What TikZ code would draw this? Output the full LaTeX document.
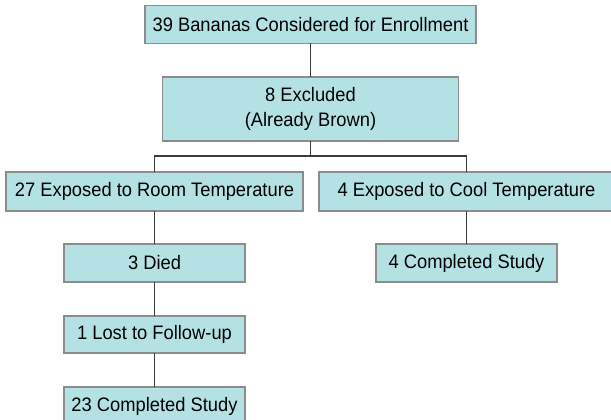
\documentclass[tikz,border=0pt]{standalone}
\usepackage{fontspec}
\setmainfont{Liberation Sans}[FakeStretch=0.94]
\definecolor{boxfill}{RGB}{180,226,228}
\definecolor{boxline}{RGB}{140,140,140}
\definecolor{conn}{RGB}{60,60,60}
\definecolor{txt}{RGB}{0,0,0}
\begin{document}
\begin{tikzpicture}[x=1pt,y=-1pt,
  box/.style={draw=boxline,fill=boxfill,line width=1.4pt,inner sep=0pt,outer sep=0pt,
    align=center,text=txt,font=\fontsize{19.5}{25}\selectfont},
  link/.style={draw=conn,line width=1.3pt}]
\useasboundingbox (0,0) rectangle (611,420);
\clip (0,0) rectangle (611,420);
\fill[white] (0,0) rectangle (611,420);
\node[box,minimum width=331pt,minimum height=38pt] (top) at (310.5,24.5) {39 Bananas Considered for Enrollment};
\node[box,minimum width=296pt,minimum height=64pt] (excl) at (310.5,109) {\raisebox{-2pt}{8 Excluded}\\\raisebox{-2pt}{(Already Brown)}};
\node[box,minimum width=297pt,minimum height=39pt] (room) at (154.5,191.5) {27 Exposed to Room Temperature};
\node[box,minimum width=295pt,minimum height=39pt] (cool) at (466.5,191.5) {4 Exposed to Cool Temperature};
\node[box,minimum width=181pt,minimum height=38pt] (died) at (154.5,263) {3 Died};
\node[box,minimum width=181pt,minimum height=38pt] (comp4) at (466.5,263) {4 Completed Study};
\node[box,minimum width=181pt,minimum height=37pt] (lost) at (154.5,334.5) {1 Lost to Follow-up};
\node[box,minimum width=181pt,minimum height=38pt] (comp23) at (154.5,406) {23 Completed Study};
\coordinate (j) at (310.5,156);
\draw[link] (top.south) -- (excl.north);
\draw[link] (excl.south) -- (j);
\draw[link] (j) -| (room.north);
\draw[link] (j) -| (cool.north);
\draw[link] (room.south) -- (died.north);
\draw[link] (cool.south) -- (comp4.north);
\draw[link] (died.south) -- (lost.north);
\draw[link] (lost.south) -- (comp23.north);
\end{tikzpicture}
\end{document}
